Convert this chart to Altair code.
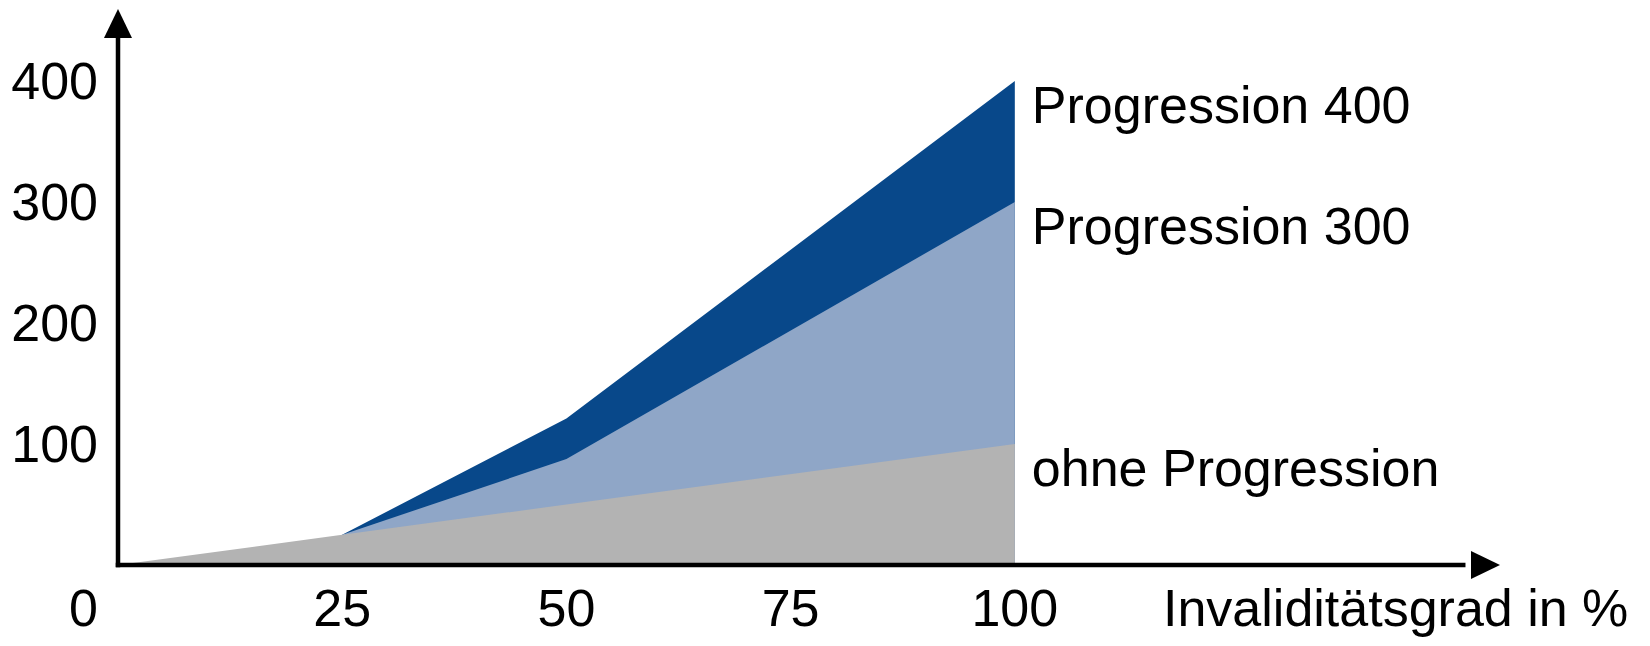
import altair as alt
import pandas as pd

# ---- data ----
x_ohne = [0, 25, 50, 100]
ohne_progression = [0, 25, 50, 100]
x_progression = [25, 50, 100]
progression_300 = [25, 87.5, 300]
progression_400 = [25, 121, 400]
x_tick_values = [0, 25, 50, 75, 100]
y_tick_values = [100, 200, 300, 400]
series_labels = ["Progression 400", "Progression 300", "ohne Progression"]
series_end_values = [400, 300, 100]
x_title = "Invaliditätsgrad in %"

FONT = "Liberation Sans"
FS = 52
X_MAX = 154.1
Y_MAX = 459.5
W, H = 1382, 556
LABEL_DY = 61

xs = alt.Scale(domain=[0, X_MAX], nice=False, zero=True)
ys = alt.Scale(domain=[0, Y_MAX], nice=False, zero=True)

def X(f="x"):
    return alt.X(f"{f}:Q", scale=xs, axis=None)

def Y(f="y"):
    return alt.Y(f"{f}:Q", scale=ys, axis=None)

df_ohne = pd.DataFrame({"x": x_ohne, "y": ohne_progression})
df_300 = pd.DataFrame({"x": x_progression, "y": progression_300})
df_400 = pd.DataFrame({"x": x_progression, "y": progression_400})

area400 = alt.Chart(df_400).mark_area(color="#08488a", opacity=1).encode(x=X(), y=Y())
area300 = alt.Chart(df_300).mark_area(color="#8fa6c7", opacity=1).encode(x=X(), y=Y())
area_ohne = alt.Chart(df_ohne).mark_area(color="#b3b3b3", opacity=1).encode(x=X(), y=Y())

axes_df = pd.DataFrame({"x": [0], "y": [0], "x2": [150], "y2": [440]})
x_axis = alt.Chart(axes_df).mark_rule(color="black", strokeWidth=4.5, strokeCap="square").encode(
    x=X(), x2="x2:Q", y=Y())
y_axis = alt.Chart(axes_df).mark_rule(color="black", strokeWidth=4.5, strokeCap="square").encode(
    x=X(), y=Y(), y2="y2:Q")

arrow_y = alt.Chart(pd.DataFrame({"x": [0], "y": [Y_MAX]})).mark_point(
    shape="M0,0L0.966,2L-0.966,2Z", size=841, filled=True, color="black", opacity=1, strokeWidth=0
).encode(x=X(), y=Y())
arrow_x = alt.Chart(pd.DataFrame({"x": [X_MAX], "y": [0]})).mark_point(
    shape="M0,0L-2,-0.966L-2,0.966Z", size=841, filled=True, color="black", opacity=1, strokeWidth=0
).encode(x=X(), y=Y())

ticks_x_df = pd.DataFrame({"x": x_tick_values, "y": [0] * len(x_tick_values),
                           "label": [str(v) for v in x_tick_values]})
xlab_mid = alt.Chart(ticks_x_df).transform_filter("datum.x > 0").mark_text(
    font=FONT, fontSize=FS, align="center", baseline="alphabetic", dy=LABEL_DY, color="black"
).encode(x=X(), y=Y(), text="label:N")
xlab_zero = alt.Chart(ticks_x_df).transform_filter("datum.x == 0").mark_text(
    font=FONT, fontSize=FS, align="right", baseline="alphabetic", dy=LABEL_DY, dx=-20, color="black"
).encode(x=X(), y=Y(), text="label:N")

ticks_y_df = pd.DataFrame({"y": y_tick_values, "label": [str(v) for v in y_tick_values]})
ylab = alt.Chart(ticks_y_df).mark_text(
    font=FONT, fontSize=FS, align="right", baseline="alphabetic", dy=18.5, color="black"
).encode(x=alt.value(-20), y=Y(), text="label:N")

lab_df = pd.DataFrame({"x": [100] * 3, "y": series_end_values, "label": series_labels})
series_text = alt.Chart(lab_df).mark_text(
    font=FONT, fontSize=FS, align="left", baseline="alphabetic", dx=17, dy=42, color="black"
).encode(x=X(), y=Y(), text="label:N")

title_df = pd.DataFrame({"y": [0], "label": [x_title]})
title_text = alt.Chart(title_df).mark_text(
    font=FONT, fontSize=FS, align="left", baseline="alphabetic", dy=LABEL_DY, color="black"
).encode(x=alt.value(1045), y=Y(), text="label:N")

chart = alt.layer(
    area400, area300, area_ohne, x_axis, y_axis, arrow_y, arrow_x,
    xlab_mid, xlab_zero, ylab, series_text, title_text
).properties(
    width=W, height=H,
    autosize=alt.AutoSizeParams(type="none"),
    padding={"left": 110, "top": 1, "right": 142, "bottom": 73},
    background="white",
).configure_view(stroke=None)

chart.save("out.html", embed_options={"renderer": "svg", "actions": False})
